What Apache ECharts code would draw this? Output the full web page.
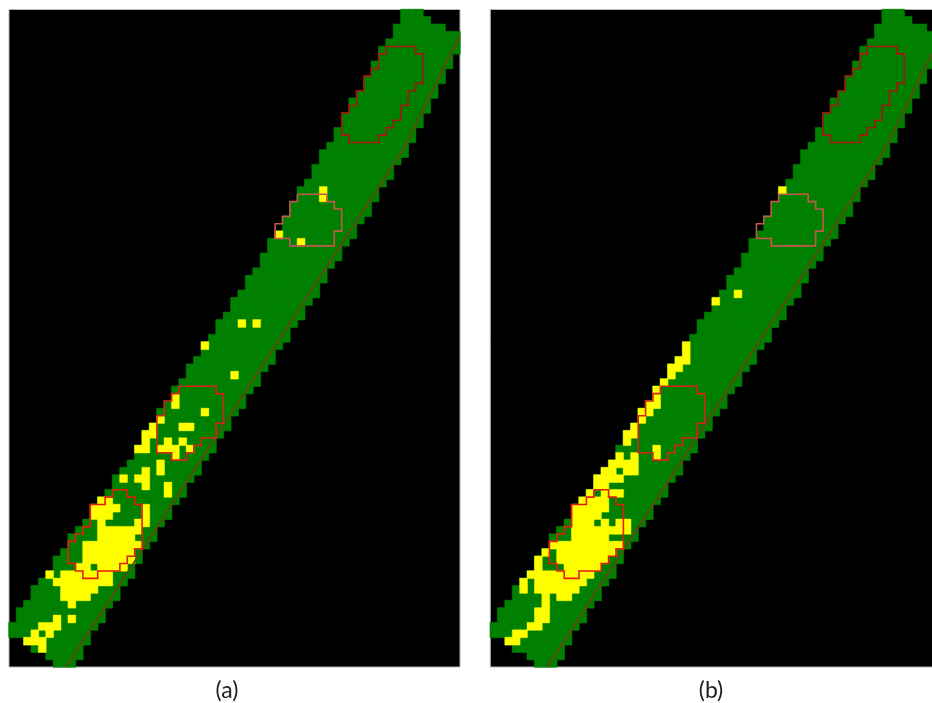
<!DOCTYPE html>
<html><head><meta charset="utf-8">
<style>html,body{margin:0;padding:0;background:#fff;overflow:hidden}#c{width:950px;height:703px}</style>
<script src="https://cdn.jsdelivr.net/npm/echarts@6/dist/echarts.min.js"></script>
</head><body><div id="c"></div>
<script>
const COLS = 61, ROWS = 89;
// first green column of each row (0..88)
const bandLeft = [53,53,52,52,51,50,50,49,49,48,48,47,46,46,45,45,44,44,43,42,42,41,41,40,39,39,38,38,37,37,36,35,35,34,34,33,32,32,31,30,30,29,28,28,27,26,26,25,24,24,23,22,22,21,20,20,19,18,18,17,17,16,15,14,14,13,12,11,11,10,9,8,8,7,6,6,5,4,3,3,2,1,1,0,0,2,3,5,6];
// column after the last green column of each row
const bandRight = [56,57,59,61,61,61,60,60,59,59,58,58,57,57,56,56,55,55,54,54,53,52,52,51,50,50,49,49,48,47,47,46,45,45,44,43,43,42,42,41,40,40,39,38,38,37,36,36,35,34,34,33,32,32,31,30,30,29,28,28,27,26,26,25,24,24,23,22,22,21,20,20,19,18,18,17,17,16,15,15,14,13,13,12,11,11,10,10,9];
// yellow runs: [row, first column, last column]
const yellowA = [[24,42,42],[25,42,42],[30,36,36],[31,39,39],[42,31,31],[42,33,33],[45,26,26],[49,30,30],[52,22,22],[53,22,22],[54,26,26],[55,20,20],[56,19,19],[56,23,24],[57,18,19],[58,18,18],[58,21,21],[58,23,23],[59,17,18],[59,20,22],[59,24,24],[60,22,22],[61,20,20],[62,20,20],[62,18,18],[63,15,15],[63,17,18],[64,18,18],[64,21,21],[65,21,21],[66,12,13],[67,11,14],[67,18,18],[68,11,13],[68,18,18],[69,12,12],[69,17,18],[70,12,17],[71,12,16],[72,10,17],[73,10,16],[74,10,16],[75,9,10],[75,12,15],[76,5,5],[76,7,13],[77,6,13],[78,7,11],[79,7,10],[80,8,8],[82,6,6],[82,8,8],[83,4,6],[84,3,3],[84,5,5],[85,2,4],[86,4,4]];
const yellowB = [[24,39,39],[38,33,33],[39,30,30],[45,26,26],[46,26,26],[47,25,26],[48,24,25],[49,24,24],[50,23,23],[51,22,22],[52,22,22],[53,21,22],[54,20,21],[55,20,20],[56,19,19],[57,18,19],[58,18,18],[59,22,22],[60,17,17],[60,19,19],[60,22,22],[61,16,19],[62,15,16],[62,18,19],[63,14,17],[64,14,15],[65,13,13],[65,15,17],[66,12,15],[67,11,15],[68,11,14],[69,11,13],[69,15,15],[69,17,18],[70,11,18],[71,11,15],[72,8,17],[73,7,7],[73,9,16],[74,6,6],[74,9,15],[75,6,6],[75,10,14],[76,5,13],[77,4,4],[77,6,12],[78,4,4],[78,6,11],[79,7,7],[79,9,10],[80,7,7],[81,6,7],[82,6,7],[83,5,6],[84,3,4],[85,2,3]];
// red contours: vertices on cell corners [column, row]
const contour1 = [[51,5],[55,5],[55,6],[56,6],[56,10],[55,10],[55,11],[54,11],[54,13],[53,13],[53,15],[52,15],[52,16],[51,16],[51,17],[50,17],[50,18],[46,18],[46,17],[45,17],[45,14],[46,14],[46,13],[47,13],[47,11],[48,11],[48,9],[49,9],[49,8],[50,8],[50,6],[51,6],[51,5]];
const contour2 = [[39,25],[43,25],[43,26],[44,26],[44,27],[45,27],[45,30],[44,30],[44,32],[38,32],[38,31],[36,31],[36,29],[37,29],[37,28],[38,28],[38,26],[39,26],[39,25]];
const contour3 = [[23,51],[28,51],[28,52],[29,52],[29,56],[28,56],[28,58],[26,58],[26,59],[25,59],[25,60],[24,60],[24,61],[22,61],[22,60],[20,60],[20,55],[21,55],[21,53],[22,53],[22,52],[23,52],[23,51]];
const contour4 = [[14,65],[16,65],[16,66],[17,66],[17,67],[18,67],[18,73],[17,73],[17,74],[16,74],[16,75],[15,75],[15,76],[12,76],[12,77],[10,77],[10,76],[9,76],[9,75],[8,75],[8,72],[9,72],[9,71],[10,71],[10,70],[11,70],[11,67],[13,67],[13,66],[14,66],[14,65]];
const edgeLine = [[7.7,89],[40.05,39.3],[53.3,19],[61,3.45]];
const panelLabels = ['(a)', '(b)'];

const colNames = Array.from({length: COLS}, (_, i) => String(i));
const rowNames = Array.from({length: ROWS}, (_, i) => String(i));
const greenCells = [];
bandLeft.forEach((l, r) => { for (let c = l; c < bandRight[r]; c++) greenCells.push([c, r, 1]); });
const cellsOf = runs => {
  const out = [];
  runs.forEach(([r, a, b]) => { for (let c = a; c <= b; c++) out.push([c, r, 1]); });
  return out;
};
const lineStyles = [
  [contour1, '#a81512'], [contour2, '#c4584e'], [contour3, '#d8201c'], [contour4, '#e81a10']
];
const grids = [], xAxes = [], yAxes = [], series = [];
[[9, yellowA], [490.3, yellowB]].forEach(([left, yellow], p) => {
  grids.push({left, top: 9.5, width: 451, height: 657.5, show: true, backgroundColor: '#000', borderColor: '#b4b4b4', borderWidth: 1});
  const xc = xAxes.length, yc = yAxes.length;
  xAxes.push({type: 'category', data: colNames, gridIndex: p, show: false});
  xAxes.push({type: 'value', min: 0, max: COLS, gridIndex: p, show: false});
  yAxes.push({type: 'category', data: rowNames, inverse: true, gridIndex: p, show: false});
  yAxes.push({type: 'value', min: 0, max: ROWS, inverse: true, gridIndex: p, show: false});
  series.push({type: 'heatmap', xAxisIndex: xc, yAxisIndex: yc, data: greenCells, itemStyle: {color: '#008000', borderColor: '#008000', borderWidth: 0.6}, silent: true, progressive: 0, z: 2});
  series.push({type: 'heatmap', xAxisIndex: xc, yAxisIndex: yc, data: cellsOf(yellow), itemStyle: {color: '#ffff00', borderColor: '#ffff00', borderWidth: 0.4}, silent: true, progressive: 0, z: 3});
  series.push({type: 'line', xAxisIndex: xc + 1, yAxisIndex: yc + 1, data: edgeLine, symbol: 'none', silent: true, z: 4, lineStyle: {color: '#63470f', width: 1.8}});
  lineStyles.forEach(([pts, color]) => {
    series.push({type: 'line', xAxisIndex: xc + 1, yAxisIndex: yc + 1, data: pts, symbol: 'none', silent: true, z: 5, lineStyle: {color, width: 1.6, join: 'miter'}});
  });
});
const chart = echarts.init(document.getElementById('c'));
chart.setOption({
  animation: false,
  backgroundColor: '#fff',
  title: panelLabels.map((t, i) => ({
    text: t, left: [222, 706][i], top: 674, textAlign: 'center',
    textStyle: {fontFamily: 'Lato', fontSize: 23, fontWeight: 'normal', color: '#222'}
  })),
  grid: grids, xAxis: xAxes, yAxis: yAxes, series
});
</script></body></html>
